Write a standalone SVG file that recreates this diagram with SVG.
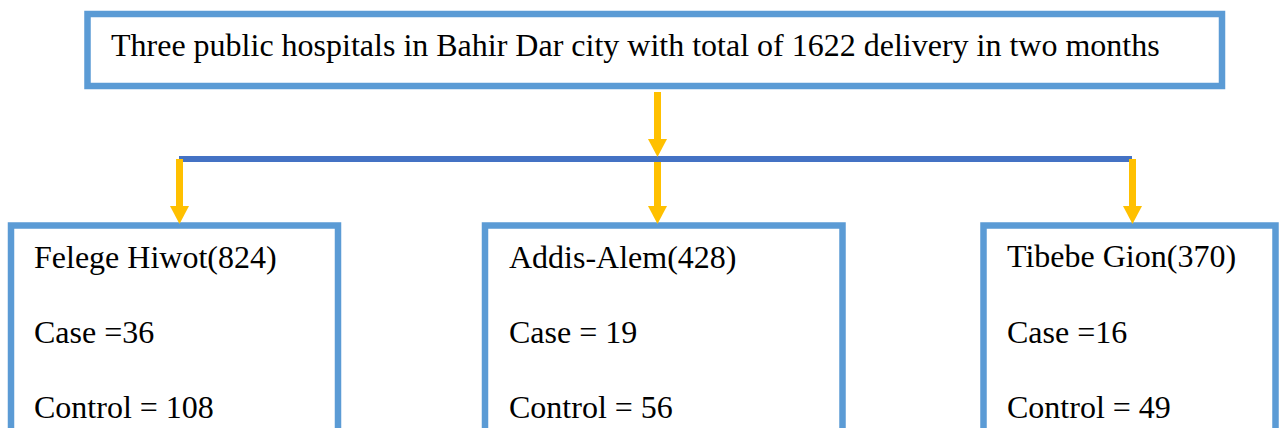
<svg xmlns="http://www.w3.org/2000/svg" width="1282" height="428" viewBox="0 0 1282 428">
<style>
.box{fill:#fff;stroke:#5B9BD5;stroke-width:6.5}
.t{font-family:"Liberation Serif","Times New Roman",serif;font-size:32px;fill:#000}
.arr{stroke:#FFC000;stroke-width:7;fill:none;marker-end:url(#ah)}
</style>
<defs>
<marker id="ah" markerUnits="userSpaceOnUse" markerWidth="20" markerHeight="19" refX="0" refY="9.5" orient="auto" viewBox="0 0 19 19" overflow="visible">
<path d="M0,0 L18,9.5 L0,19 Z" fill="#FFC000"/>
</marker>
</defs>
<rect width="1282" height="428" fill="#fff"/>
<g id="top">
<rect class="box" x="87.5" y="14" width="1134.5" height="72"/>
<text class="t" x="111" y="56">Three public hospitals in Bahir Dar city with total of 1622 delivery in two months</text>
</g>
<g id="felege">
<rect class="box" x="11" y="225.5" width="327" height="230"/>
<text class="t" x="34" y="268">Felege Hiwot(824)</text>
<text class="t" x="34" y="343">Case =36</text>
<text class="t" x="34" y="418">Control = 108</text>
</g>
<g id="addis">
<rect class="box" x="485" y="225.5" width="357.5" height="230"/>
<text class="t" x="509" y="268">Addis-Alem(428)</text>
<text class="t" x="509" y="343">Case = 19</text>
<text class="t" x="509" y="418">Control = 56</text>
</g>
<g id="tibebe">
<rect class="box" x="983.5" y="225.5" width="292" height="230"/>
<text class="t" x="1007" y="267">Tibebe Gion(370)</text>
<text class="t" x="1007" y="343">Case =16</text>
<text class="t" x="1007" y="418">Control = 49</text>
</g>
<g id="connectors">
<line x1="179" y1="159" x2="1132" y2="159" stroke="#4472C4" stroke-width="6"/>
<line class="arr" x1="657.5" y1="92" x2="657.5" y2="139"/>
<line class="arr" x1="657.5" y1="162" x2="657.5" y2="206"/>
<line class="arr" x1="179.5" y1="159" x2="179.5" y2="206"/>
<line class="arr" x1="1132.5" y1="159" x2="1132.5" y2="206"/>
</g>
</svg>
